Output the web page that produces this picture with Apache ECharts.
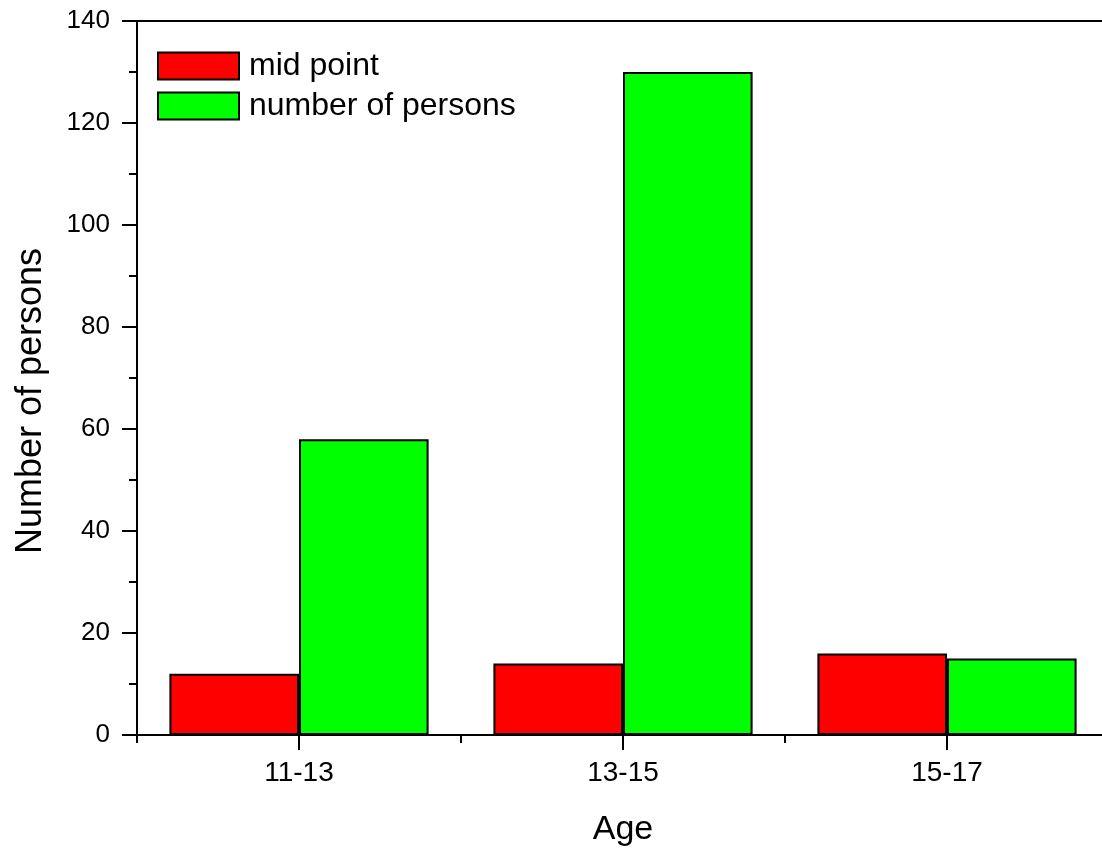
<!DOCTYPE html>
<html>
<head>
<meta charset="utf-8">
<script src="https://cdn.jsdelivr.net/npm/echarts@6/dist/echarts.min.js"></script>
<style>
  html, body { margin: 0; padding: 0; background: #fff; overflow: hidden; }
  #chart { width: 1102px; height: 852px; }
</style>
</head>
<body>
<div id="chart"></div>
<script>
// Age groups along the x axis
const ageGroups = ['11-13', '13-15', '15-17'];
// Red bars: mid point of each age group
const midPoint = [12, 14, 16];
// Green bars: number of persons in each age group
const numberOfPersons = [58, 130, 15];

const FONT = '"Liberation Sans", Arial, sans-serif';

const chart = echarts.init(document.getElementById('chart'), null, { renderer: 'canvas' });

chart.setOption({
  animation: false,
  backgroundColor: '#ffffff',
  textStyle: { fontFamily: FONT, color: '#000' },
  grid: {
    left: 137,
    top: 21,
    width: 972,
    bottom: 117,
    outerBoundsMode: 'none',
    containLabel: false,
    show: true,
    borderColor: '#000',
    borderWidth: 2,
    backgroundColor: 'transparent'
  },
  legend: {
    orient: 'vertical',
    left: 157,
    top: 50,
    padding: 0,
    itemWidth: 81,
    itemHeight: 27,
    itemGap: 8,
    icon: 'rect',
    textStyle: { fontFamily: FONT, fontSize: 32, color: '#000', padding: [0, 0, 0, 5] },
    data: ['mid point', 'number of persons']
  },
  xAxis: [
    {
      type: 'category',
      data: ageGroups,
      position: 'bottom',
      name: 'Age',
      nameLocation: 'middle',
      nameGap: 78,
      nameTextStyle: { fontFamily: FONT, fontSize: 34, color: '#000' },
      axisLine: { show: true, lineStyle: { color: '#000', width: 2 } },
      axisTick: { show: true, alignWithLabel: true, inside: false, length: 15, lineStyle: { color: '#000', width: 2 } },
      axisLabel: { fontFamily: FONT, fontSize: 28, color: '#000', margin: 24 },
      splitLine: { show: false }
    },
    {
      // boundary ticks between the age groups
      type: 'category',
      data: ageGroups,
      position: 'bottom',
      axisLine: { show: false },
      axisTick: { show: true, alignWithLabel: false, inside: false, length: 8, lineStyle: { color: '#000', width: 2 } },
      axisLabel: { show: false },
      splitLine: { show: false }
    }
  ],
  yAxis: {
    type: 'value',
    min: 0,
    max: 140,
    interval: 20,
    name: 'Number of persons',
    nameLocation: 'middle',
    nameGap: 88,
    nameTextStyle: { fontFamily: FONT, fontSize: 36, color: '#000', padding: [0, 46, 0, 0] },
    axisLine: { show: true, lineStyle: { color: '#000', width: 2 } },
    axisTick: { show: true, inside: false, length: 15, lineStyle: { color: '#000', width: 2 } },
    minorTick: { show: true, splitNumber: 2, length: 8, lineStyle: { color: '#000', width: 2 } },
    axisLabel: { fontFamily: FONT, fontSize: 26, color: '#000', margin: 27 },
    splitLine: { show: false }
  },
  series: [
    {
      name: 'mid point',
      type: 'bar',
      data: midPoint,
      barGap: '0%',
      barCategoryGap: '20%',
      itemStyle: { color: '#ff0000', borderColor: '#000', borderWidth: 2 }
    },
    {
      name: 'number of persons',
      type: 'bar',
      data: numberOfPersons,
      barGap: '0%',
      barCategoryGap: '20%',
      itemStyle: { color: '#00ff00', borderColor: '#000', borderWidth: 2 }
    }
  ]
});
</script>
</body>
</html>
